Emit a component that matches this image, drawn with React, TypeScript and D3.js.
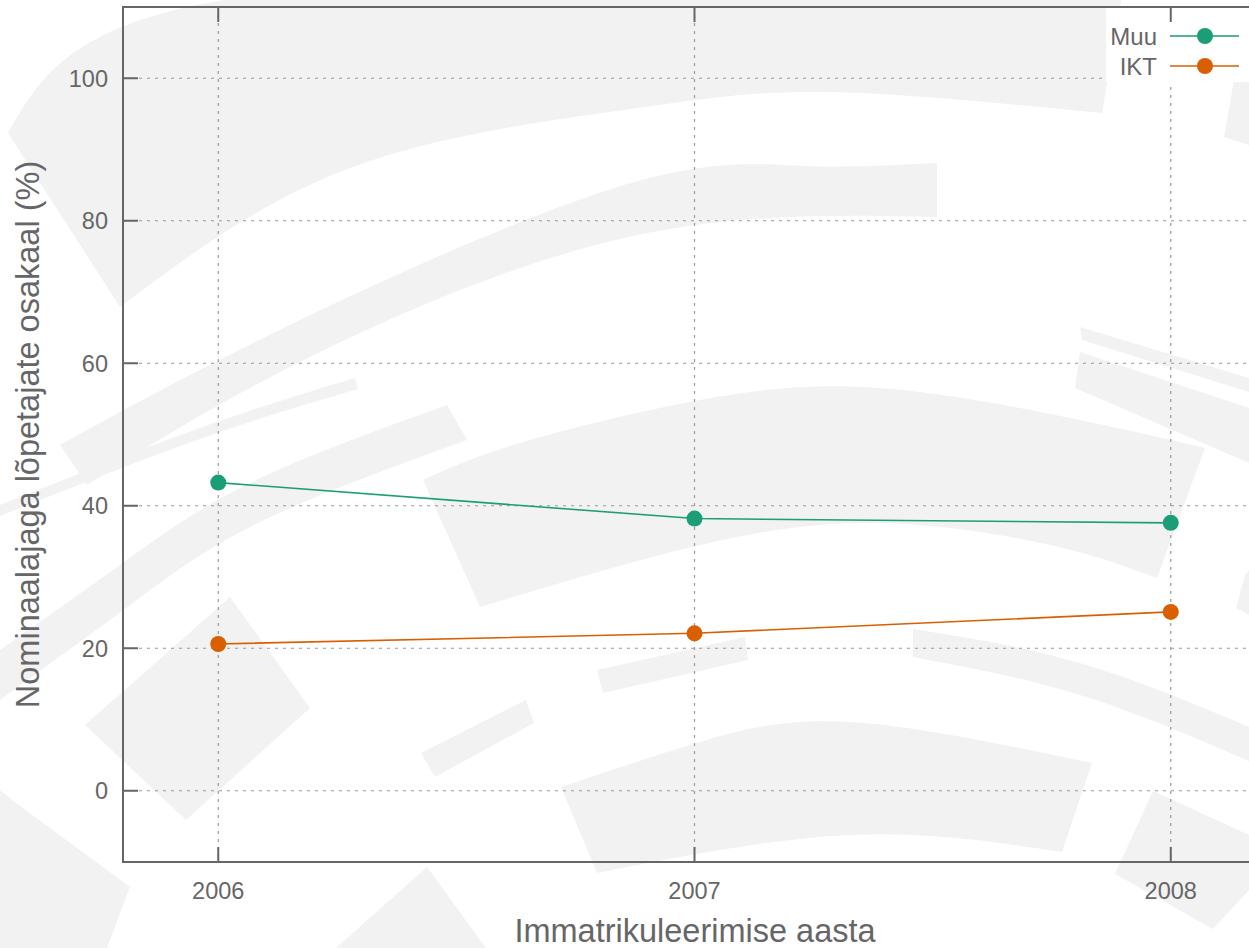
import React from "react";
import * as d3 from "d3";

const years = [2006, 2007, 2008];
const muu = [43.25, 38.2, 37.6];
const ikt = [20.6, 22.1, 25.1];
const yTicks = [0, 20, 40, 60, 80, 100];
const seriesNames = ["Muu", "IKT"];
const seriesColors = ["#1b9e77", "#d95f02"];
const xTitle = "Immatrikuleerimise aasta";
const yTitle = "Nominaalajaga lõpetajate osakaal (%)";

// decorative background watermark (curved bands and plain polygons)
type P = [number, number];
const wmBands: { top: P[]; bottom: P[] }[] = [
  { top: [[8, 133], [259, -5], [1122, -5]], bottom: [[120, 307], [350, 168], [624, 110], [823, 92], [1102, 113]] },
  { top: [[60, 445], [300, 320], [624, 185], [803, 166], [937, 163]], bottom: [[87, 485], [300, 362], [624, 238], [937, 217]] },
  { top: [[0, 505], [200, 428], [355, 378]], bottom: [[0, 516], [200, 439], [358, 389]] },
  { top: [[0, 650], [120, 565], [250, 483], [447, 405]], bottom: [[0, 700], [130, 605], [260, 522], [467, 440]] },
  { top: [[423, 480], [520, 443], [700, 400], [880, 388], [1080, 420], [1205, 448]], bottom: [[480, 607], [700, 545], [880, 523], [1050, 545], [1157, 578]] },
  { top: [[1080, 327], [1249, 378]], bottom: [[1082, 340], [1249, 392]] },
  { top: [[1080, 352], [1249, 408]], bottom: [[1075, 388], [1249, 463]] },
  { top: [[913, 629], [1080, 663], [1249, 727]], bottom: [[913, 657], [1080, 695], [1249, 761]] },
  { top: [[561, 787], [700, 742], [850, 722], [1092, 763]], bottom: [[597, 873], [850, 835], [1062, 852]] },
];
const wmPolys: P[][] = [
  [[230, 597], [310, 708], [186, 820], [85, 725]],
  [[0, 790], [16, 803], [130, 887], [107, 948], [0, 948]],
  [[427, 867], [486, 948], [336, 948]],
  [[421, 753], [526, 700], [534, 723], [435, 777]],
  [[597, 670], [745, 637], [748, 660], [603, 693]],
  [[1153, 791], [1249, 835], [1249, 890], [1213, 929], [1115, 874]],
  [[1224, 137], [1234, 80], [1249, 80], [1249, 145]],
  [[1245, 575], [1249, 570], [1249, 615], [1236, 608]],
];

const W = 1249, H = 948;
const L = 123, T = 7, B = 862;

export default function App() {
  const x = d3.scaleLinear().domain([2005.8, 2008.2]).range([L, 1266]);
  const y = d3.scaleLinear().domain([-10, 110]).range([B, T]);
  const line = d3.line<number>().x((_, i) => x(years[i])).y((d) => y(d));
  const series = [muu, ikt];
  const edge = d3.line<P>().curve(d3.curveNatural);
  const bandPath = (b: { top: P[]; bottom: P[] }) => {
    const t = edge(b.top) as string;
    const bt = edge(b.bottom.slice().reverse()) as string;
    return t + "L" + bt.slice(1) + "Z";
  };
  const poly = d3.line<P>();
  const legY = [36, 66];
  return (
    <svg width={W} height={H} style={{ position: "absolute", left: 0, top: 0 }} fontFamily="'Liberation Sans', Arial, sans-serif">
      <rect width={W} height={H} fill="#fff" />
      <g fill="#f2f2f2">
        {wmBands.map((b, i) => <path key={"b" + i} d={bandPath(b)} />)}
        {wmPolys.map((p, i) => <path key={"p" + i} d={(poly(p) as string) + "Z"} />)}
      </g>
      {yTicks.map((t) => (
        <line key={"g" + t} x1={L} x2={W} y1={y(t)} y2={y(t)} stroke="#999" strokeWidth={1.2} strokeDasharray="3,5" />
      ))}
      {years.map((yr) => (
        <line key={"gv" + yr} x1={x(yr)} x2={x(yr)} y1={T} y2={B} stroke="#999" strokeWidth={1.2} strokeDasharray="3,5" />
      ))}
      <rect x={1106} y={T} width={W - 1106} height={82 - T} fill="#fff" />
      {yTicks.map((t) => (
        <g key={t}>
          <line x1={L} x2={L + 15} y1={y(t)} y2={y(t)} stroke="#666" strokeWidth={2} />
          <text x={108} y={y(t)} dy="0.36em" textAnchor="end" fontSize={23.5} fill="#666">{t}</text>
        </g>
      ))}
      {years.map((yr) => (
        <g key={yr}>
          <line x1={x(yr)} x2={x(yr)} y1={B} y2={B - 15} stroke="#666" strokeWidth={2} />
          <line x1={x(yr)} x2={x(yr)} y1={T} y2={T + 15} stroke="#666" strokeWidth={2} />
          <text x={x(yr)} y={899} textAnchor="middle" fontSize={23.5} fill="#666">{yr}</text>
        </g>
      ))}
      <path d={`M${W},${T}H${L}V${B}H${W}`} fill="none" stroke="#666" strokeWidth={2} />
      {series.map((s, si) => (
        <g key={si}>
          <path d={line(s) as string} fill="none" stroke={seriesColors[si]} strokeWidth={1.6} />
          {s.map((v, i) => (
            <circle key={i} cx={x(years[i])} cy={y(v)} r={8} fill={seriesColors[si]} />
          ))}
        </g>
      ))}
      {seriesNames.map((n, i) => (
        <g key={n}>
          <text x={1157} y={legY[i]} dy="0.36em" textAnchor="end" fontSize={24} fill="#666">{n}</text>
          <line x1={1170} x2={1239} y1={legY[i]} y2={legY[i]} stroke={seriesColors[i]} strokeWidth={1.6} />
          <circle cx={1205} cy={legY[i]} r={8} fill={seriesColors[i]} />
        </g>
      ))}
      <text x={695} y={942} textAnchor="middle" fontSize={32.5} fill="#666">{xTitle}</text>
      <text transform={`translate(39,${(T + B) / 2}) rotate(-90)`} textAnchor="middle" fontSize={32.5} fill="#666">{yTitle}</text>
    </svg>
  );
}
